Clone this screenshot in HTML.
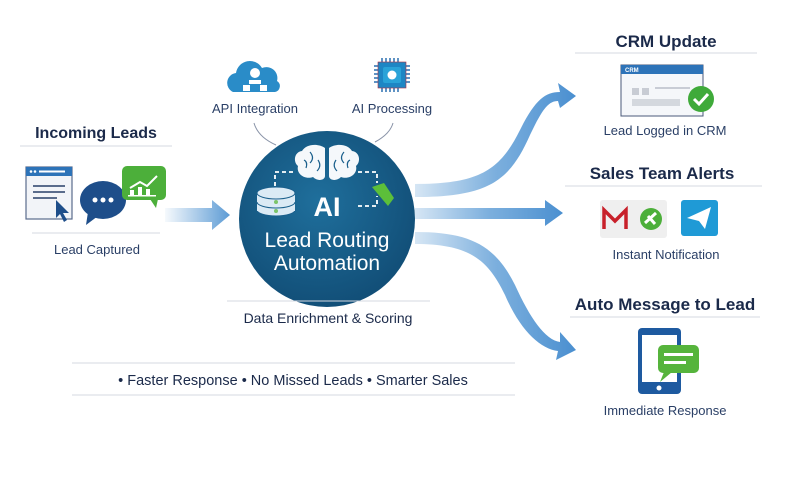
<!DOCTYPE html>
<html><head><meta charset="utf-8"><style>
html,body{margin:0;padding:0;background:#fff;}
svg{display:block;font-family:"Liberation Sans",sans-serif;}
</style></head><body>
<svg width="800" height="485" viewBox="0 0 800 485" xmlns="http://www.w3.org/2000/svg">
<defs>
<linearGradient id="ga" x1="0" x2="1"><stop offset="0" stop-color="#4a90d0" stop-opacity="0.05"/><stop offset="1" stop-color="#4a90d0" stop-opacity="0.9"/></linearGradient>
<linearGradient id="gb" x1="0" x2="1"><stop offset="0" stop-color="#5b9bd5" stop-opacity="0.25"/><stop offset="0.5" stop-color="#5b9bd5" stop-opacity="0.8"/><stop offset="1" stop-color="#4a8fd0"/></linearGradient>
<radialGradient id="gc" cx="0.45" cy="0.4" r="0.6"><stop offset="0" stop-color="#1f6f9c"/><stop offset="1" stop-color="#124f78"/></radialGradient>
</defs>
<rect width="800" height="485" fill="#fff"/>

<!-- Left section -->
<text x="96" y="138" text-anchor="middle" font-size="16" font-weight="bold" fill="#1b2a4a">Incoming Leads</text>
<line x1="20" y1="146" x2="172" y2="146" stroke="#d5dae2" stroke-width="1"/>
<rect x="26" y="167" width="46" height="52" fill="#f2f4f8" stroke="#5a6c8c" stroke-width="1.2"/>
<rect x="26" y="167" width="46" height="9" fill="#2d73b8"/>
<circle cx="31" cy="171.5" r="1.3" fill="#fff"/><circle cx="35" cy="171.5" r="1.3" fill="#fff"/><rect x="39" y="170.5" width="26" height="2" fill="#fff"/>
<rect x="33" y="185" width="32" height="2" fill="#5a6c8c"/><rect x="33" y="191" width="32" height="2" fill="#5a6c8c"/><rect x="33" y="197" width="24" height="2" fill="#5a6c8c"/>
<path d="M56 200 L56 218 L60 214 L64 222 L67 220 L63 213 L69 213 Z" fill="#1e4e8a"/>
<ellipse cx="103" cy="200" rx="23" ry="19" fill="#1e4e8a"/>
<path d="M88 212 L86 225 L98 216 Z" fill="#1e4e8a"/>
<circle cx="95" cy="200" r="2.5" fill="#fff"/><circle cx="103" cy="200" r="2.5" fill="#fff"/><circle cx="111" cy="200" r="2.5" fill="#fff"/>
<rect x="122" y="166" width="44" height="34" rx="5" fill="#4caf3a"/>
<path d="M150 199 L156 208 L158 199 Z" fill="#4caf3a"/>
<path d="M130 188 L140 182 L147 186 L157 176" stroke="#fff" stroke-width="2" fill="none"/>
<rect x="130" y="190" width="4" height="5" fill="#fff"/><rect x="138" y="187" width="4" height="8" fill="#fff"/><rect x="146" y="189" width="4" height="6" fill="#fff"/><rect x="128" y="195" width="28" height="1.5" fill="#fff"/>
<line x1="32" y1="233" x2="160" y2="233" stroke="#d5dae2"/>
<text x="97" y="254" text-anchor="middle" font-size="13" fill="#2a3f66">Lead Captured</text>
<path d="M165 208 L212 208 L212 200 L230 215 L212 230 L212 222 L165 222 Z" fill="url(#ga)"/>

<!-- top icons -->
<path d="M233 92 a10 10 0 0 1 3-19 a14 14 0 0 1 26-5 a11 11 0 0 1 15 13 a6 6 0 0 1 -2 11 Z" fill="#2a8cc8"/>
<circle cx="255" cy="73" r="5" fill="#fff"/><rect x="249" y="80" width="12" height="4" fill="#fff"/>
<rect x="243" y="85" width="7" height="6" fill="#fff"/><rect x="260" y="85" width="7" height="6" fill="#fff"/>
<text x="255" y="113" text-anchor="middle" font-size="13" fill="#2a3f66">API Integration</text>
<g stroke="#2a6fb0" stroke-width="1.5">
<line x1="382" y1="58" x2="382" y2="92"/><line x1="386" y1="58" x2="386" y2="92"/><line x1="390" y1="58" x2="390" y2="92"/><line x1="394" y1="58" x2="394" y2="92"/><line x1="398" y1="58" x2="398" y2="92"/>
<line x1="374" y1="66" x2="410" y2="66"/><line x1="374" y1="70" x2="410" y2="70"/><line x1="374" y1="74" x2="410" y2="74"/><line x1="374" y1="78" x2="410" y2="78"/><line x1="374" y1="82" x2="410" y2="82"/>
</g>
<rect x="378" y="62" width="28" height="26" fill="#1e86c4" stroke="#b03040" stroke-width="0.6"/>
<rect x="383" y="67" width="18" height="16" rx="2" fill="#2aa3d8"/>
<circle cx="392" cy="75" r="4.5" fill="#fff"/>
<text x="392" y="113" text-anchor="middle" font-size="13" fill="#2a3f66">AI Processing</text>
<path d="M254 123 Q258 137 276 145" stroke="#8a94a8" fill="none"/>
<path d="M393 123 Q390 134 375 142" stroke="#8a94a8" fill="none"/>

<!-- right arrows -->
<path d="M415 184 C480 184 500 170 520 130 C535 100 545 92 560 92 L558 83 L576 96 L560 108 L558 101 C548 101 542 110 530 135 C510 180 490 197 415 197 Z" fill="url(#gb)"/>
<path d="M415 208 L545 208 L545 200 L563 213 L545 226 L545 219 L415 219 Z" fill="url(#gb)"/>
<path d="M415 232 C470 232 495 245 515 285 C530 318 545 340 560 342 L560 332 L576 350 L556 360 L558 351 C540 349 520 330 505 295 C488 260 470 244 415 244 Z" fill="url(#gb)"/>

<!-- central circle -->
<circle cx="327" cy="219" r="88" fill="url(#gc)"/>
<path d="M275 186 L275 172 L296 172 M358 172 L377 172 L377 183 M358 206 L377 206 L377 196" stroke="#fff" stroke-width="1.8" stroke-dasharray="4 3" fill="none"/>
<path d="M325 148 C318 143 306 144 302 151 C294 152 293 162 298 166 C296 174 305 180 313 177 C318 182 325 180 325 176 Z" fill="#f5f8fb"/>
<path d="M329 148 C336 143 348 144 352 151 C360 152 361 162 356 166 C358 174 349 180 341 177 C336 182 329 180 329 176 Z" fill="#f5f8fb"/>
<g stroke="#1a5f8c" stroke-width="1.2" fill="none">
<path d="M310 152 Q315 158 310 163 M318 160 Q322 166 317 171 M304 160 Q308 162 306 168"/>
<path d="M344 152 Q339 158 344 163 M336 160 Q332 166 337 171 M350 160 Q346 162 348 168"/>
</g>
<g fill="#dbeaf5" stroke="#1a5f8c" stroke-width="1">
<ellipse cx="276" cy="210" rx="19" ry="6"/><rect x="257" y="203" width="38" height="8" fill="#dbeaf5" stroke="none"/>
<ellipse cx="276" cy="202" rx="19" ry="6"/><rect x="257" y="194" width="38" height="8" fill="#dbeaf5" stroke="none"/>
<ellipse cx="276" cy="193" rx="19" ry="6"/>
</g>
<circle cx="276" cy="202" r="2" fill="#7cc46a"/><circle cx="276" cy="211" r="2" fill="#7cc46a"/>
<path d="M372 187 L384 183 L394 198 L388 206 Z" fill="#5cbf3a"/>
<text x="327" y="216" text-anchor="middle" font-size="27" font-weight="bold" fill="#fff">AI</text>
<text x="327" y="247" text-anchor="middle" font-size="21" fill="#fff">Lead Routing</text>
<text x="327" y="270" text-anchor="middle" font-size="21" fill="#fff">Automation</text>
<line x1="227" y1="301" x2="430" y2="301" stroke="#d5dae2"/>
<text x="328" y="323" text-anchor="middle" font-size="14" fill="#1b2a4a">Data Enrichment &amp; Scoring</text>

<!-- bottom -->
<line x1="72" y1="363" x2="515" y2="363" stroke="#d5dae2"/>
<line x1="72" y1="395" x2="515" y2="395" stroke="#d5dae2"/>
<text x="293" y="385" text-anchor="middle" font-size="14.5" fill="#1b2a4a">• Faster Response  • No Missed Leads  • Smarter Sales</text>

<!-- CRM -->
<text x="666" y="47" text-anchor="middle" font-size="17" font-weight="bold" fill="#1b2a4a">CRM Update</text>
<line x1="575" y1="53" x2="757" y2="53" stroke="#d5dae2"/>
<rect x="621" y="65" width="82" height="51" fill="#f5f7fa" stroke="#4a5a7a" stroke-width="1"/>
<rect x="621" y="65" width="82" height="9" fill="#2d73b8"/>
<text x="625" y="72" font-size="6" font-weight="bold" fill="#fff">CRM</text>
<rect x="632" y="88" width="7" height="7" fill="#c8ccd4"/><rect x="642" y="88" width="7" height="7" fill="#c8ccd4"/>
<line x1="655" y1="88" x2="690" y2="88" stroke="#9aa2b0"/>
<rect x="632" y="99" width="48" height="7" fill="#d4d8de"/>
<circle cx="701" cy="99" r="13" fill="#3faa3a"/>
<path d="M694 99 L699 104 L708 94" stroke="#fff" stroke-width="3" fill="none"/>
<text x="665" y="135" text-anchor="middle" font-size="13" fill="#2a3f66">Lead Logged in CRM</text>

<!-- Sales -->
<text x="662" y="179" text-anchor="middle" font-size="17" font-weight="bold" fill="#1b2a4a">Sales Team Alerts</text>
<line x1="565" y1="186" x2="762" y2="186" stroke="#d5dae2"/>
<rect x="600" y="200" width="67" height="38" rx="3" fill="#efefef"/>
<path d="M604 229 L604 210 L615 221 L626 210 L626 229" stroke="#c8202a" stroke-width="3.5" fill="none"/>
<circle cx="651" cy="219" r="11" fill="#4caf3a"/>
<path d="M645 223 L656 213 M648 216 L655 224" stroke="#fff" stroke-width="3"/>
<rect x="681" y="200" width="37" height="36" rx="3" fill="#1f9ad6"/>
<path d="M687 218 L711 207 L705 229 L699 221 Z" fill="#fff"/>
<text x="666" y="259" text-anchor="middle" font-size="13" fill="#2a3f66">Instant Notification</text>

<!-- Auto message -->
<text x="665" y="310" text-anchor="middle" font-size="17" font-weight="bold" fill="#1b2a4a">Auto Message to Lead</text>
<line x1="570" y1="317" x2="760" y2="317" stroke="#d5dae2"/>
<rect x="638" y="328" width="43" height="66" rx="4" fill="#1e5aa0"/>
<rect x="642" y="335" width="35" height="47" fill="#fff"/>
<circle cx="659" cy="388" r="2.5" fill="#fff"/>
<rect x="658" y="345" width="41" height="28" rx="5" fill="#56b43c"/>
<path d="M664 372 L660 382 L672 372 Z" fill="#56b43c"/>
<rect x="664" y="353" width="29" height="3" fill="#fff"/><rect x="664" y="361" width="22" height="3" fill="#fff"/>
<text x="665" y="415" text-anchor="middle" font-size="13" fill="#2a3f66">Immediate Response</text>
</svg>
</body></html>
